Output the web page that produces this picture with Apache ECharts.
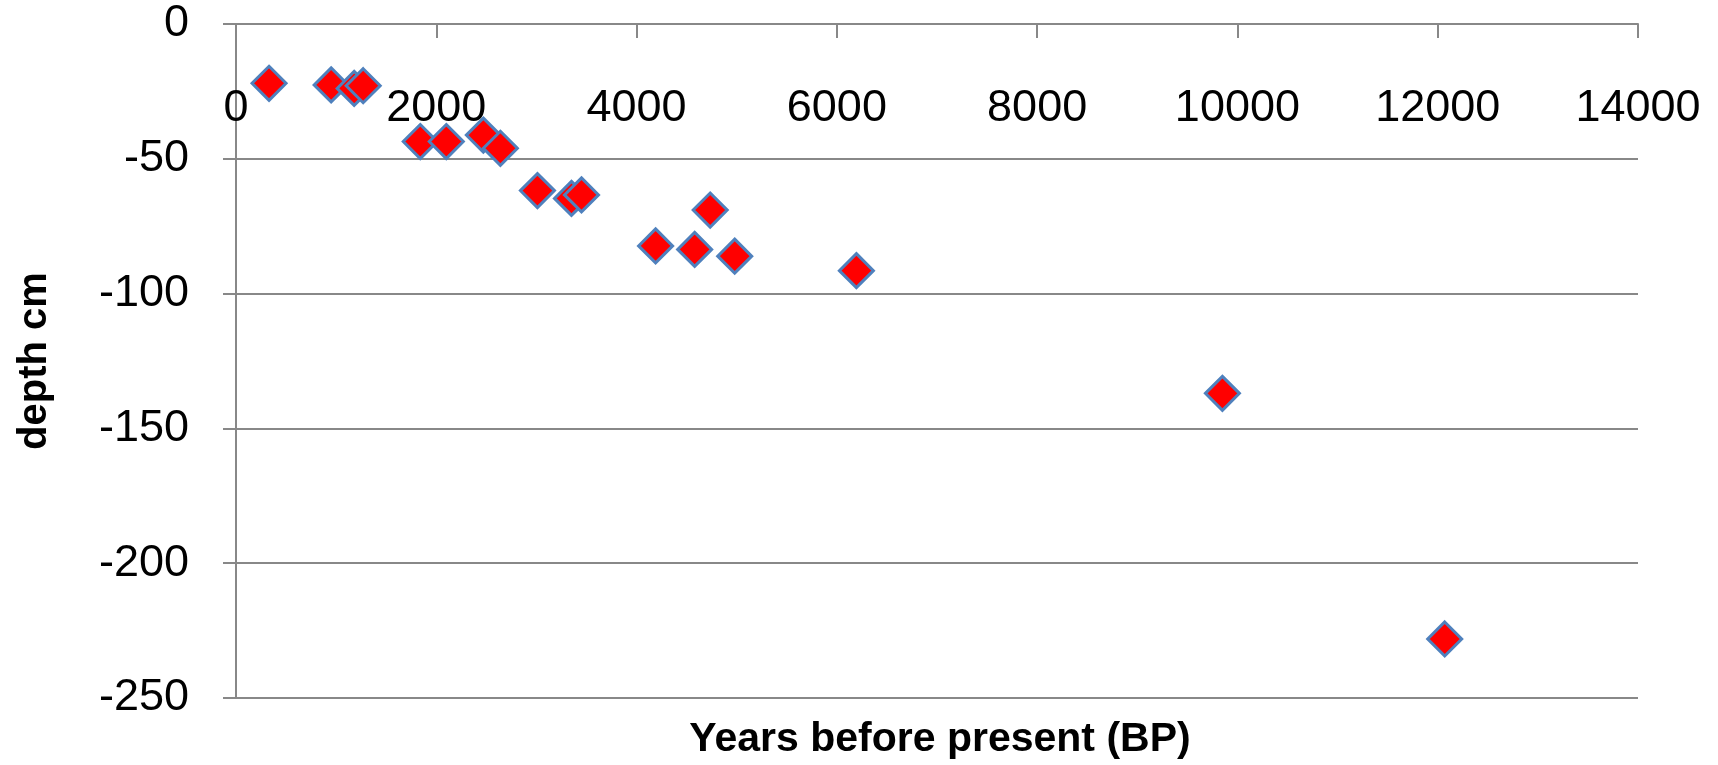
<!DOCTYPE html>
<html>
<head>
<meta charset="utf-8">
<script src="https://cdn.jsdelivr.net/npm/echarts@6/dist/echarts.min.js"></script>
<style>
html,body{margin:0;padding:0;background:#fff;}
#chart{width:1718px;height:765px;}
</style>
</head>
<body>
<div id="chart"></div>
<script>
// Years before present (BP)
const yearsBP = [330, 950, 1180, 1270, 1840, 2100, 2470, 2640, 3010, 3350, 3450, 4190, 4580, 4735, 4980, 6195, 9850, 12070];
// depth in cm
const depthCm = [-22, -22.6, -23.9, -22.9, -43.6, -43.6, -41.2, -46.1, -61.8, -64.7, -63.4, -82.3, -83.6, -69, -86.1, -91.5, -137, -228.1];
const xTicks = [0, 2000, 4000, 6000, 8000, 10000, 12000, 14000];
const yTicks = [0, -50, -100, -150, -200, -250];
const xTitle = 'Years before present (BP)';
const yTitle = 'depth cm';

const points = yearsBP.map((x, i) => [x, depthCm[i]]);
const FONT = 'Liberation Sans';
const GRID_COLOR = '#888888';
const chart = echarts.init(document.getElementById('chart'), null, {renderer: 'canvas'});
chart.setOption({
  animation: false,
  backgroundColor: '#ffffff',
  title: {
    text: xTitle,
    left: 935,
    textAlign: 'center',
    top: 714,
    textStyle: {fontFamily: FONT, fontWeight: 'bold', fontSize: 41, color: '#000'}
  },
  grid: {left: 236, right: 80, top: 24, bottom: 67, containLabel: false},
  xAxis: {
    type: 'value',
    position: 'top',
    min: xTicks[0],
    max: xTicks[xTicks.length - 1],
    interval: 2000,
    axisLine: {show: true, onZero: false, lineStyle: {color: GRID_COLOR, width: 2}},
    axisTick: {show: true, inside: true, length: 14, lineStyle: {color: GRID_COLOR, width: 2}},
    splitLine: {show: false},
    axisLabel: {inside: true, margin: 62, fontFamily: FONT, fontSize: 45, color: '#000',
      formatter: v => String(v)}
  },
  yAxis: {
    type: 'value',
    min: yTicks[yTicks.length - 1],
    max: yTicks[0],
    interval: 50,
    name: yTitle,
    nameLocation: 'middle',
    nameRotate: 90,
    nameGap: 181,
    nameTextStyle: {fontFamily: FONT, fontWeight: 'bold', fontSize: 40, color: '#000'},
    axisLine: {show: true, onZero: false, lineStyle: {color: GRID_COLOR, width: 2}},
    axisTick: {show: true, length: 13, lineStyle: {color: GRID_COLOR, width: 2}},
    splitLine: {show: true, lineStyle: {color: GRID_COLOR, width: 2}},
    axisLabel: {margin: 47, fontFamily: FONT, fontSize: 45, color: '#000',
      formatter: v => String(v)}
  },
  series: [{
    type: 'scatter',
    data: points,
    symbol: 'diamond',
    symbolSize: [34, 34],
    itemStyle: {color: '#ff0000', borderColor: '#4f81bd', borderWidth: 3, opacity: 1}
  }]
});
</script>
</body>
</html>
